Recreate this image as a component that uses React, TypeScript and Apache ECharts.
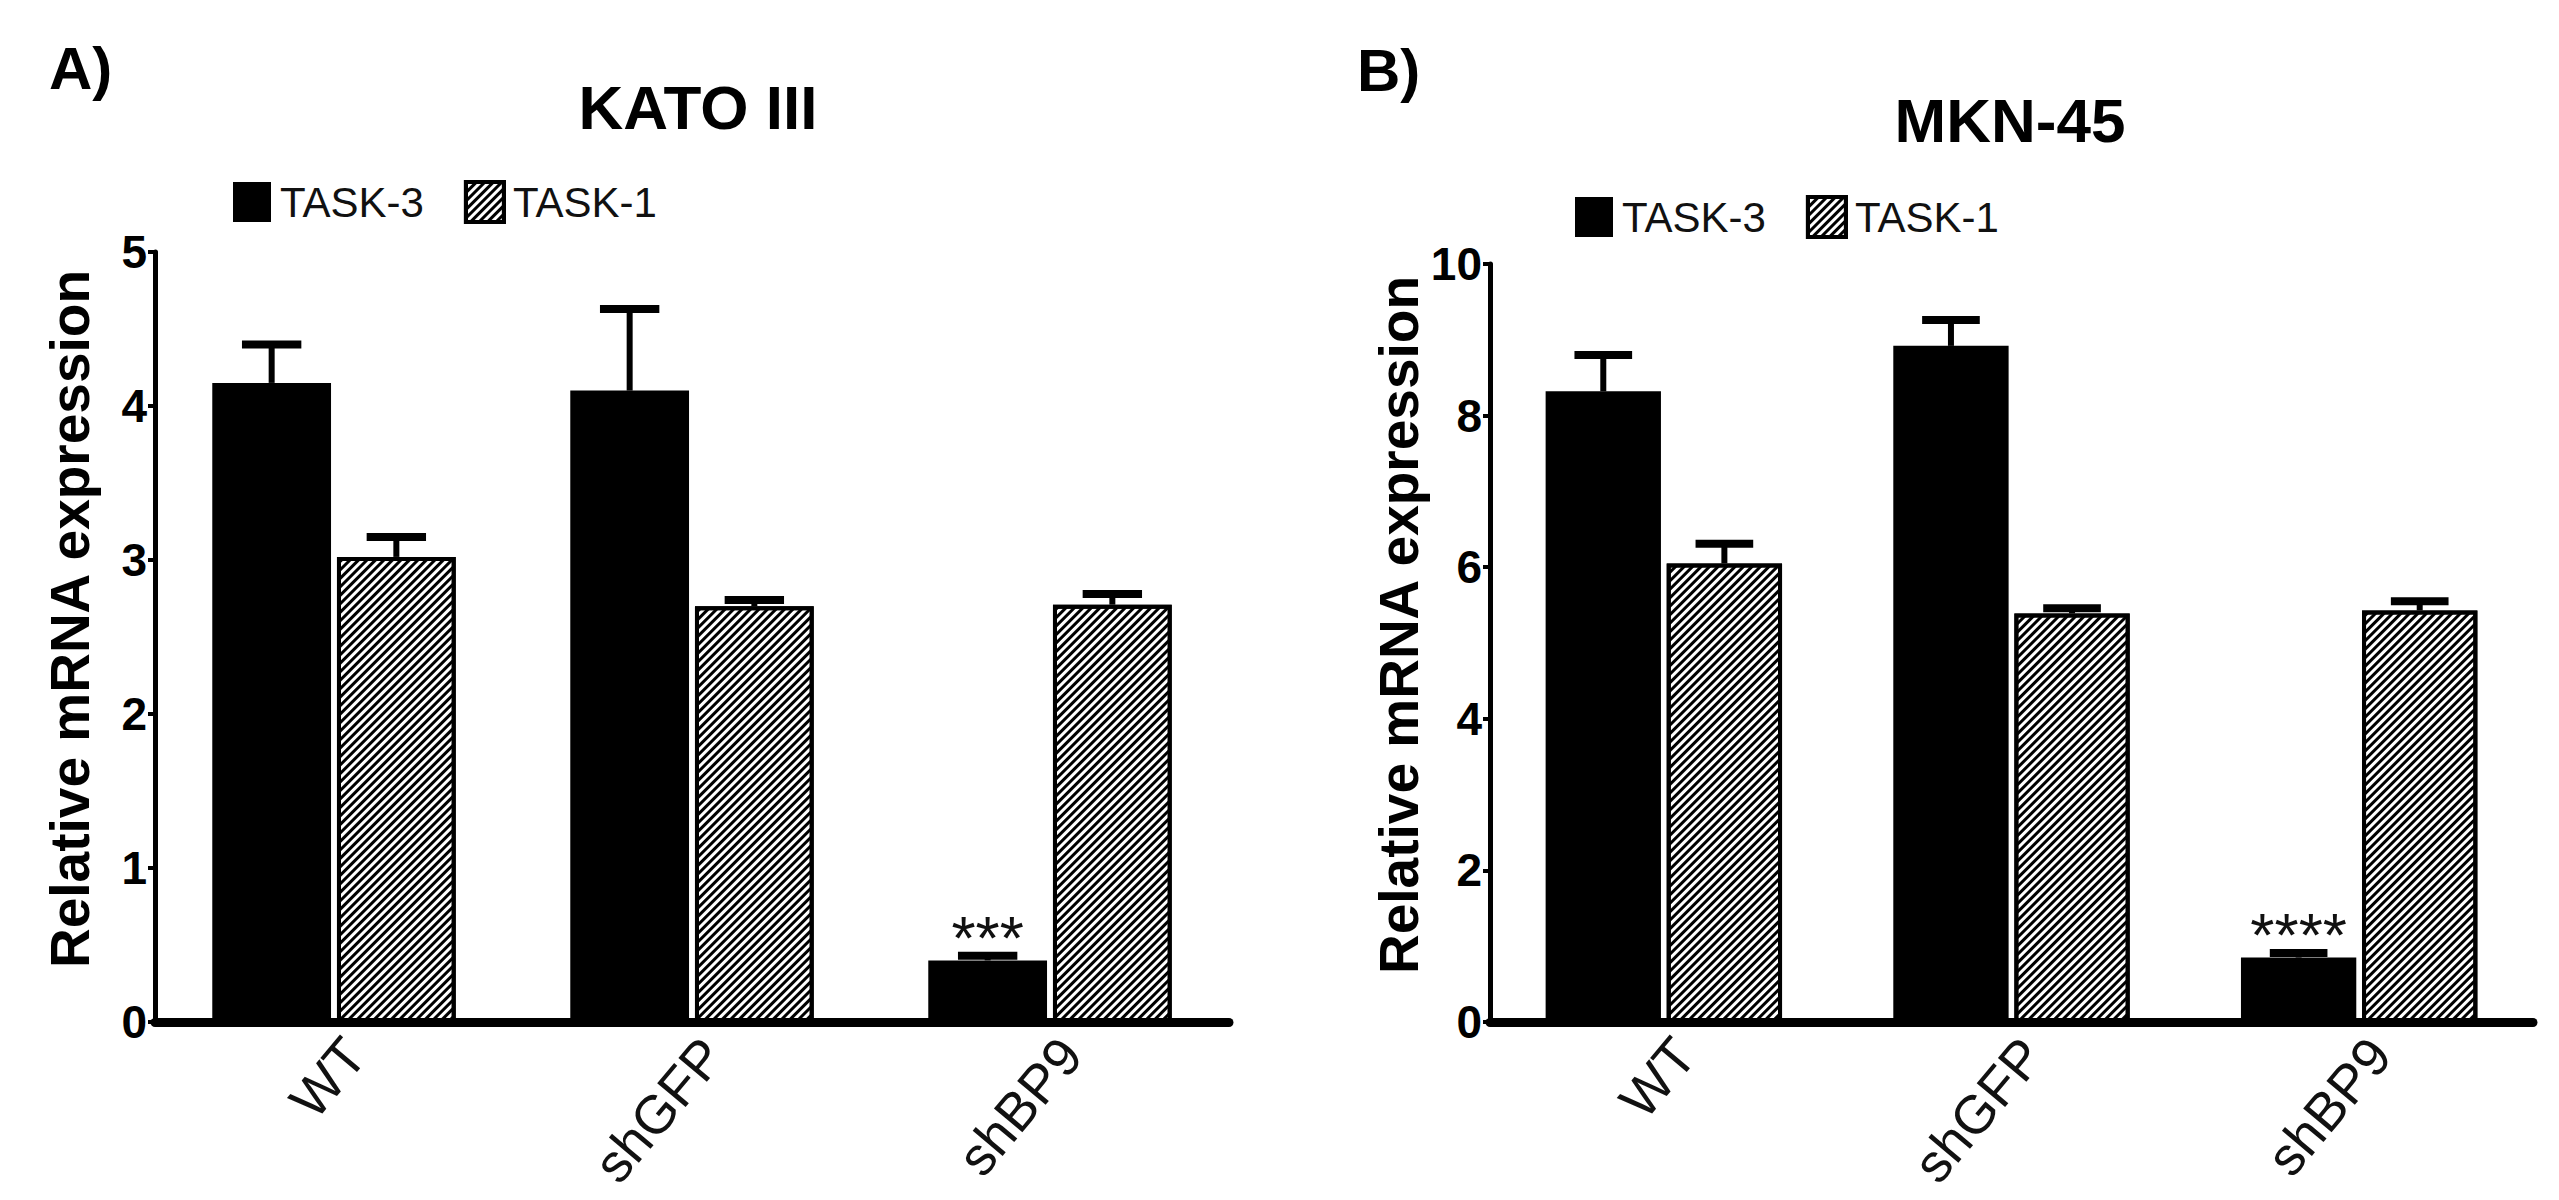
import React, { useEffect, useRef } from "react";
import * as echarts from "echarts";

const categories = ["WT", "shGFP", "shBP9"];
const seriesNames = ["TASK-3", "TASK-1"];

// Panel A: KATO III
const kato_task3 = [4.15, 4.1, 0.4];
const kato_task3_err = [0.25, 0.53, 0.03];
const kato_task1 = [3.02, 2.7, 2.71];
const kato_task1_err = [0.13, 0.04, 0.07];
const kato_stars = ["", "", "***"];
const kato_ticks = { min: 0, max: 5, interval: 1 };

// Panel B: MKN-45
const mkn_task3 = [8.32, 8.92, 0.85];
const mkn_task3_err = [0.48, 0.34, 0.06];
const mkn_task1 = [6.05, 5.39, 5.43];
const mkn_task1_err = [0.26, 0.07, 0.12];
const mkn_stars = ["", "", "****"];
const mkn_ticks = { min: 0, max: 10, interval: 2 };

const panelLetters = ["A)", "B)"];
const panelTitles = ["KATO III", "MKN-45"];
const yAxisName = "Relative mRNA expression";

const FONT = "'Liberation Sans', Arial, Helvetica, sans-serif";
const CAT_GAP = 0.32;
const BAR_GAP = 0.05;

const hatch = {
  symbol: "rect",
  symbolSize: 1,
  color: "#000",
  backgroundColor: "#fff",
  dashArrayX: [1, 0],
  dashArrayY: [3, 2.8],
  rotation: -Math.PI / 4,
};

function buildErr(t3: number[], e3: number[], t1: number[], e1: number[]) {
  const out: number[][] = [];
  t3.forEach((v, i) => out.push([i, v + e3[i], v, 0]));
  t1.forEach((v, i) => out.push([i, v + e1[i], v, 1]));
  return out;
}

function errRender(params: any, api: any) {
  const cat = api.value(0);
  const top = api.value(1);
  const mean = api.value(2);
  const sIdx = api.value(3);
  const band = api.size([1, 0])[0];
  const bw = (band * (1 - CAT_GAP)) / (2 + BAR_GAP);
  const off = ((sIdx === 0 ? -1 : 1) * bw * (1 + BAR_GAP)) / 2;
  const p0 = api.coord([cat, mean]);
  const p1 = api.coord([cat, top]);
  const x = p0[0] + off;
  const half = bw / 4;
  return {
    type: "group",
    children: [
      {
        type: "line",
        shape: { x1: x, y1: p0[1], x2: x, y2: p1[1] },
        style: { stroke: "#000", lineWidth: 6 },
      },
      {
        type: "line",
        shape: { x1: x - half, y1: p1[1], x2: x + half, y2: p1[1] },
        style: { stroke: "#000", lineWidth: 8 },
      },
    ],
  };
}

function barData(vals: number[], stars: string[]) {
  return vals.map((v, i) =>
    stars[i]
      ? {
          value: v,
          label: {
            show: true,
            position: "top",
            formatter: stars[i],
            fontSize: 62,
            fontWeight: "normal",
            fontFamily: FONT,
            color: "#111",
            distance: -8,
          },
        }
      : v
  );
}

export default function App() {
  const ref = useRef<HTMLDivElement>(null);
  useEffect(() => {
    if (!ref.current) return;
    const chart = echarts.init(ref.current, null, { renderer: "svg" });

    const grids = [
      { left: 155, right: 2559 - 1229, top: 252, bottom: 178 },
      { left: 1490, right: 2559 - 2533, top: 264, bottom: 178 },
    ];
    const ticks = [kato_ticks, mkn_ticks];

    const xAxes = grids.map((_, i) => ({
      type: "category",
      gridIndex: i,
      data: categories,
      axisLine: { show: true, lineStyle: { color: "#000", width: 9 } },
      axisTick: { show: false },
      axisLabel: {
        rotate: 50,
        fontSize: 54,
        lineHeight: 54,
        verticalAlign: "top",
        color: "#111",
        fontFamily: FONT,
        margin: 6,
        interval: 0,
      },
    }));

    const yAxes = grids.map((_, i) => ({
      type: "value",
      gridIndex: i,
      min: ticks[i].min,
      max: ticks[i].max,
      interval: ticks[i].interval,
      name: yAxisName,
      nameLocation: "middle",
      nameRotate: 90,
      nameGap: 58,
      nameTextStyle: {
        fontSize: 55,
        fontWeight: "bold",
        color: "#000",
        fontFamily: FONT,
        padding: [0, 0, 0, 36],
      },
      splitLine: { show: false },
      axisLine: { show: true, lineStyle: { color: "#000", width: 5 } },
      axisTick: { show: true, length: 7, lineStyle: { color: "#000", width: 4 } },
      axisLabel: {
        fontSize: 46,
        fontWeight: "bold",
        color: "#000",
        fontFamily: FONT,
        margin: 8,
      },
    }));

    const data3 = [kato_task3, mkn_task3];
    const data1 = [kato_task1, mkn_task1];
    const stars = [kato_stars, mkn_stars];
    const errs = [
      buildErr(kato_task3, kato_task3_err, kato_task1, kato_task1_err),
      buildErr(mkn_task3, mkn_task3_err, mkn_task1, mkn_task1_err),
    ];

    const series: any[] = [];
    for (let i = 0; i < 2; i++) {
      series.push({
        name: seriesNames[0],
        type: "bar",
        xAxisIndex: i,
        yAxisIndex: i,
        barCategoryGap: CAT_GAP * 100 + "%",
        barGap: BAR_GAP * 100 + "%",
        itemStyle: { color: "#000", borderColor: "#000", borderWidth: 0 },
        data: barData(data3[i], stars[i]),
      });
      series.push({
        name: seriesNames[1],
        type: "bar",
        xAxisIndex: i,
        yAxisIndex: i,
        barCategoryGap: CAT_GAP * 100 + "%",
        barGap: BAR_GAP * 100 + "%",
        itemStyle: { color: "#fff", borderColor: "#000", borderWidth: 4, decal: hatch },
        data: data1[i],
      });
      series.push({
        type: "custom",
        xAxisIndex: i,
        yAxisIndex: i,
        z: 10,
        renderItem: errRender,
        data: errs[i],
        silent: true,
      });
    }

    const legendPos = [
      { left: 233, top: 180 },
      { left: 1575, top: 195 },
    ];
    const legends = legendPos.map((p) => ({
      ...p,
      orient: "horizontal",
      padding: 0,
      itemWidth: 38,
      itemHeight: 40,
      itemGap: 40,
      icon: "rect",
      data: [
        { name: seriesNames[0] },
        {
          name: seriesNames[1],
          itemStyle: { color: "#fff", borderColor: "#000", borderWidth: 4, decal: hatch },
        },
      ],
      textStyle: { fontSize: 42, color: "#111", fontFamily: FONT, padding: [0, 0, 0, 4] },
    }));

    const letterPos = [
      [49, 68],
      [1357, 70],
    ];
    const titlePos = [
      [698, 107],
      [2010, 120],
    ];
    const graphic: any[] = [];
    for (let i = 0; i < 2; i++) {
      graphic.push({
        type: "text",
        x: letterPos[i][0],
        y: letterPos[i][1],
        style: {
          text: panelLetters[i],
          font: `bold 60px ${FONT}`,
          fill: "#000",
          textAlign: "left",
          textVerticalAlign: "middle",
        },
      });
      graphic.push({
        type: "text",
        x: titlePos[i][0],
        y: titlePos[i][1],
        style: {
          text: panelTitles[i],
          font: `bold 62px ${FONT}`,
          fill: "#000",
          textAlign: "center",
          textVerticalAlign: "middle",
        },
      });
    }

    chart.setOption({
      animation: false,
      backgroundColor: "#fff",
      grid: grids,
      xAxis: xAxes,
      yAxis: yAxes,
      legend: legends,
      series,
      graphic,
    });
    return () => chart.dispose();
  }, []);
  return (
    <div
      ref={ref}
      style={{ position: "absolute", left: 0, top: 0, width: "2559px", height: "1200px" }}
    />
  );
}
